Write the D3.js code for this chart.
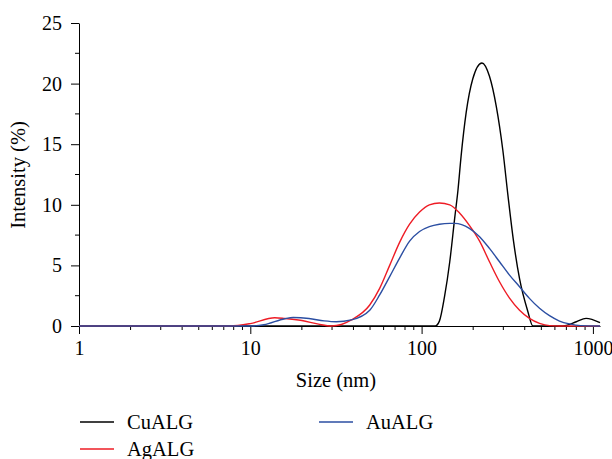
<!DOCTYPE html>
<html>
<head>
<meta charset="utf-8">
<script src="https://cdn.jsdelivr.net/npm/d3@7"></script>
<style>
  body { margin: 0; background: #fff; }
  svg { display: block; font-family: "Liberation Serif", "DejaVu Serif", serif; }
</style>
</head>
<body>
<svg id="chart" width="612" height="459"></svg>
<script>
// size (nm) / intensity (%) pairs
const cuSize = [1, 100, 120, 127, 136, 146, 156, 163, 170, 182, 199, 225, 249, 273, 298, 319, 344, 373, 417, 446, 640, 700, 800, 912, 1100]
const cuValue = [0, 0, 0, 0.4, 2.4, 5.3, 8.9, 11.2, 14.0, 17.6, 20.4, 21.7, 20.6, 18.1, 14.5, 10.8, 7.0, 3.9, 1.2, 0, 0, 0.05, 0.35, 0.63, 0.27]

const agSize = [1, 7.6, 10, 13.9, 15.9, 20, 25, 29.8, 34, 38.9, 49.8, 56.9, 65.1, 74.4, 85.1, 97.3, 111, 127, 146, 167, 190, 218, 249, 285, 326, 373, 426, 488, 558, 640, 1100]
const agValue = [0, 0, 0.2, 0.68, 0.62, 0.45, 0.15, 0, 0.12, 0.5, 1.73, 3.1, 5.0, 6.9, 8.4, 9.4, 10.0, 10.15, 10.0, 9.3, 8.3, 7.0, 5.3, 3.65, 2.3, 1.3, 0.63, 0.22, 0.03, 0, 0]

const auSize = [1, 9.9, 12, 15.9, 17.8, 22, 27, 31.8, 38.9, 49.8, 56.9, 65.1, 74.4, 85.1, 97.3, 111, 127, 146, 156, 190, 218, 249, 285, 326, 373, 426, 488, 558, 638, 729, 850, 1100]
const auValue = [0, 0, 0.1, 0.6, 0.7, 0.62, 0.42, 0.35, 0.5, 1.3, 2.56, 4.07, 5.6, 7.0, 7.8, 8.2, 8.4, 8.47, 8.47, 8.06, 7.37, 6.4, 5.3, 4.2, 3.24, 2.28, 1.46, 0.85, 0.41, 0.17, 0.03, 0]

const seriesNames = ['CuALG', 'AgALG', 'AuALG']
const seriesColors = ['#000000', '#ee1c25', '#2b4ea2']
const yTicks = [0, 5, 10, 15, 20, 25]
const xTicks = [1, 10, 100, 1000]

const svg = d3.select('#chart')
const plotLeft = 79, plotRight = 600, plotTop = 23, plotBottom = 326

const x = d3.scaleLog().domain([1, 1100]).range([plotLeft, plotRight])
const y = d3.scaleLinear().domain([0, 25]).range([plotBottom, plotTop])

const series = [
  cuSize.map((s, i) => [s, cuValue[i]]),
  agSize.map((s, i) => [s, agValue[i]]),
  auSize.map((s, i) => [s, auValue[i]])
]

// y axis
const yMinor = d3.range(0, 25.1, 2.5).filter(v => v % 5 !== 0)
const yAxis = svg.append('g').attr('transform', 'translate(' + plotLeft + ',0)')
yAxis.call(d3.axisLeft(y).tickValues(yTicks).tickSize(8).tickPadding(9).tickSizeOuter(0))
yAxis.selectAll('line.minor').data(yMinor).enter()
  .append('line')
  .attr('class', 'minor')
  .attr('x1', -4).attr('x2', 0)
  .attr('y1', d => y(d)).attr('y2', d => y(d))
  .attr('stroke', '#000')

// x axis
const xMinor = []
for (let dec = 1; dec <= 1000; dec *= 10) {
  for (let k = 2; k <= 9; k++) if (dec * k <= 1100) xMinor.push(dec * k)
}
const xAxis = svg.append('g').attr('transform', 'translate(0,' + plotBottom + ')')
xAxis.call(d3.axisBottom(x).tickValues(xTicks).tickFormat(d3.format('d')).tickSize(8).tickPadding(7).tickSizeOuter(0))
xAxis.selectAll('line.minor').data(xMinor).enter()
  .append('line')
  .attr('class', 'minor')
  .attr('x1', d => x(d)).attr('x2', d => x(d))
  .attr('y1', 0).attr('y2', 4)
  .attr('stroke', '#000')

svg.selectAll('.tick text').attr('font-size', 20).attr('font-family', '"Liberation Serif", serif').attr('fill', '#000')
svg.selectAll('.domain, .tick line').attr('stroke', '#000')

// curves
const line = d3.line()
  .x(d => x(d[0]))
  .y(d => y(d[1]))
  .curve(d3.curveMonotoneX)

svg.append('g').selectAll('path')
  .data(series)
  .enter().append('path')
  .attr('d', line)
  .attr('fill', 'none')
  .attr('stroke', (d, i) => seriesColors[i])
  .attr('stroke-width', 1.4)

// axis titles
svg.append('text')
  .attr('x', 336).attr('y', 387)
  .attr('text-anchor', 'middle')
  .attr('font-size', 20.5)
  .text('Size (nm)')

svg.append('text')
  .attr('transform', 'translate(25,175) rotate(-90)')
  .attr('text-anchor', 'middle')
  .attr('font-size', 20.5)
  .text('Intensity (%)')

// legend
const legendPos = [[80, 422], [80, 449], [319, 422]]
const legend = svg.append('g').selectAll('g')
  .data(seriesNames)
  .enter().append('g')
  .attr('transform', (d, i) => 'translate(' + legendPos[i] + ')')
legend.append('line')
  .attr('x1', 0).attr('x2', 34)
  .attr('stroke', (d, i) => seriesColors[i])
  .attr('stroke-width', 1.4)
legend.append('text')
  .attr('x', 47).attr('y', 7)
  .attr('font-size', 20.5)
  .text(d => d)
</script>
</body>
</html>
